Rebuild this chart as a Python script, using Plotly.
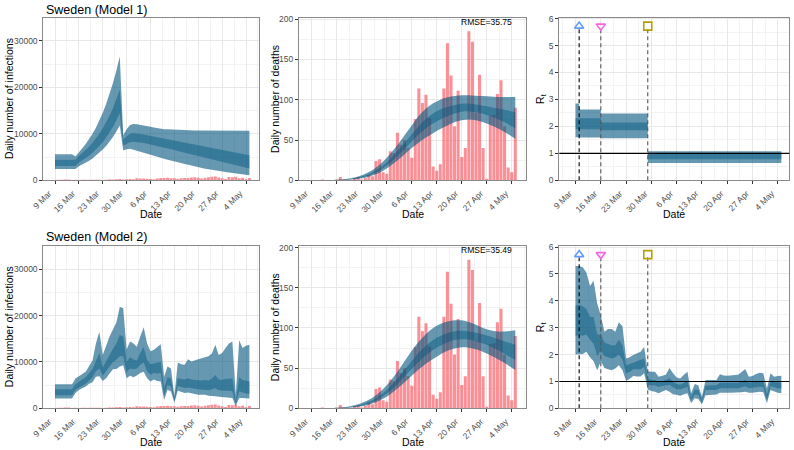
import pandas as pd
import plotly.graph_objects as go

# ---------------- data ----------------
dates = pd.date_range("2020-03-09", "2020-05-05", freq="D")

# daily reported deaths (bars, middle panels)
deaths = [0, 0, 0, 1, 0, 0, 0, 1, 4, 1,
          1, 0, 3, 4, 1, 3, 7, 5, 24, 26,
          10, 8, 36, 34, 59, 44, 50, 40, 28, 76,
          114, 96, 106, 77, 17, 12, 20, 114, 170, 130,
          67, 111, 29, 40, 185, 172, 84, 131, 40, 2,
          80, 81, 107, 124, 67, 16, 10, 90]

# daily reported cases (bars, left panels)
cases = [45, 107, 145, 162, 176, 48, 93, 60, 100, 106,
         93, 125, 93, 108, 89, 125, 178, 159, 241, 287,
         191, 214, 282, 246, 429, 382, 411, 335, 300, 226,
         368, 482, 486, 544, 466, 465, 332, 465, 497, 482,
         613, 676, 563, 392, 545, 682, 751, 812, 610, 463,
         286, 695, 681, 790, 428, 562, 235, 492]

# Model 1 infections (daily, Mar 9 - May 5)
m1_inf_lo95 = [2450, 2450, 2450, 2450, 2450, 2450, 2450, 3000, 3350, 3750,
               4200, 4700, 5300, 5900, 6600, 7400, 8300, 9300, 10500, 11800,
               6400, 6700, 6800, 6600, 6400, 6200, 5950, 5700, 5500, 5300,
               5100, 4850, 4650, 4400, 4200, 4000, 3800, 3650, 3500, 3350,
               3200, 3000, 2800, 2650, 2500, 2400, 2250, 2150, 2050, 1900,
               1800, 1700, 1600, 1500, 1400, 1300, 1200, 1100]
m1_inf_lo50 = [3100, 3100, 3100, 3100, 3100, 3100, 3100, 3800, 4250, 4750,
               5300, 5900, 6600, 7350, 8200, 9200, 10300, 11500, 12900, 14400,
               7500, 7900, 8200, 8300, 8250, 8150, 8000, 7850, 7700, 7550,
               7400, 7200, 7050, 6850, 6700, 6500, 6320, 6140, 5960, 5780,
               5600, 5420, 5240, 5060, 4880, 4700, 4520, 4340, 4160, 3980,
               3800, 3620, 3440, 3260, 3080, 2900, 2720, 2540]
m1_inf_hi50 = [4400, 4400, 4400, 4400, 4400, 4400, 4400, 5200, 5800, 6450,
               7200, 8050, 9000, 10000, 11200, 12500, 13900, 15500, 17400, 19500,
               8800, 9500, 10000, 10100, 10050, 9950, 9850, 9700, 9550, 9400,
               9250, 9100, 8950, 8800, 8650, 8500, 8360, 8220, 8080, 7940,
               7800, 7650, 7510, 7370, 7230, 7090, 6950, 6810, 6670, 6530,
               6390, 6250, 6110, 5960, 5820, 5680, 5540, 5400]
m1_inf_hi95 = [5600, 5600, 5600, 5600, 5600, 5600, 5100, 6100, 6900, 7800,
               8800, 10000, 11300, 12800, 14500, 16400, 18500, 20900, 23600, 26600,
               9700, 11000, 11900, 12100, 12050, 11950, 11800, 11650, 11500, 11350,
               11200, 11100, 11000, 10950, 10900, 10850, 10800, 10800, 10750, 10750,
               10700, 10700, 10700, 10700, 10700, 10700, 10700, 10700, 10700, 10700,
               10650, 10650, 10650, 10650, 10650, 10650, 10650, 10650]

# Model 2 infections
m2_inf_lo95 = [2100, 2100, 2100, 2100, 2100, 2100, 3300, 3950, 4300, 4700,
               5300, 5600, 6800, 6900, 5900, 6500, 7500, 8400, 8500, 9000,
               9300, 6500, 7000, 6700, 7100, 7600, 7900, 6500, 5800, 6200,
               5900, 5800, 1800, 4000, 3600, 1200, 3800, 3600, 3300, 3400,
               3200, 3100, 2900, 2900, 2900, 2700, 2700, 2600, 2500, 2450,
               2350, 2250, 2200, 500, 2200, 2200, 2100, 2100]
m2_inf_lo50 = [2800, 2800, 2800, 2800, 2800, 2800, 4000, 4500, 4900, 5300,
               6100, 6700, 8000, 8600, 7000, 8000, 9000, 10000, 10500, 11200,
               11200, 7800, 8600, 8400, 8600, 9400, 9900, 8000, 7300, 7600,
               7500, 7600, 2600, 5000, 4700, 1600, 4800, 4600, 4400, 4500,
               4300, 4200, 4100, 4000, 4000, 3900, 4100, 4300, 3900, 3800,
               3800, 3800, 3700, 800, 3700, 3400, 3200, 3100]
m2_inf_hi50 = [4100, 4100, 4100, 4100, 4100, 4100, 5200, 5800, 6200, 6700,
               7700, 8500, 10200, 11900, 8800, 10300, 11500, 12800, 14000, 15800,
               15500, 10000, 11000, 10500, 10300, 12000, 13300, 10400, 9500, 9700,
               9800, 10000, 4300, 6700, 6400, 2100, 6500, 6300, 6200, 6500,
               6200, 6100, 6000, 6000, 6100, 6000, 6400, 7200, 6200, 6100,
               6300, 6400, 6400, 1400, 6700, 6100, 5900, 5800]
m2_inf_hi95 = [5200, 5200, 5200, 5200, 5200, 5200, 6400, 7000, 7400, 7900,
               9200, 10300, 14000, 16500, 11500, 13500, 15500, 17000, 18500, 21900,
               21600, 12700, 14400, 14000, 13300, 15500, 17500, 14000, 12300, 12600,
               13200, 13800, 6800, 9000, 8600, 2600, 9900, 9500, 9400, 10600,
               10100, 10400, 10600, 10800, 11000, 11200, 11800, 13700, 11500, 11900,
               13000, 14000, 14400, 2900, 14700, 13000, 13500, 13700]

# modelled deaths bands (every second day + last day), day offsets from 9 Mar
death_band_days = [6, 8, 10, 12, 14, 16, 18, 20, 22, 24, 26, 28, 30, 32, 34,
                   36, 38, 40, 42, 44, 46, 48, 50, 52, 54, 56, 57]
m1_dth_lo95 = [0.0, 0.2, 0.6, 1.3, 2.5, 4.5, 7.6, 12.0, 17.8, 24.7, 32.4, 40.0, 47.0, 53.0,
               58.5, 63.5, 68.0, 72.0, 74.5, 75.5, 74.5, 72.0, 68.5, 64.5, 60.0, 54.5, 52.0]
m1_dth_lo50 = [0.1, 0.4, 0.9, 1.9, 3.5, 6.0, 9.8, 15.1, 21.9, 30.0, 38.9, 48.0, 57.0, 64.5,
               70.5, 75.5, 79.5, 83.0, 85.0, 85.5, 84.5, 82.5, 79.5, 76.0, 72.0, 67.0, 64.5]
m1_dth_hi50 = [0.2, 0.6, 1.3, 2.6, 4.7, 7.8, 12.4, 18.7, 26.8, 36.3, 46.6, 57.0, 67.5, 76.5,
               83.0, 88.0, 91.0, 93.5, 95.0, 95.0, 94.0, 92.5, 91.0, 89.0, 87.5, 85.5, 84.5]
m1_dth_hi95 = [0.4, 0.9, 1.8, 3.5, 6.2, 10.2, 15.8, 23.3, 32.8, 43.9, 56.0, 68.0, 80.0, 89.0,
               95.5, 100.0, 103.0, 104.5, 105.5, 105.5, 105.0, 104.5, 104.0, 103.5, 103.5, 103.5, 103.5]

m2_dth_lo95 = [0.0, 0.2, 0.6, 1.3, 2.5, 4.5, 7.5, 11.8, 17.5, 24.5, 32.5, 40.5, 48.5, 55.5,
               61.5, 67.0, 71.5, 74.5, 76.0, 75.5, 73.5, 70.0, 66.0, 61.5, 56.5, 50.5, 48.0]
m2_dth_lo50 = [0.1, 0.4, 0.9, 1.9, 3.5, 6.0, 9.8, 15.0, 21.8, 30.0, 39.5, 49.0, 58.0, 66.0,
               72.5, 78.0, 82.0, 85.0, 86.0, 85.5, 83.5, 80.5, 77.0, 73.0, 68.0, 62.5, 60.0]
m2_dth_hi50 = [0.2, 0.6, 1.3, 2.7, 4.8, 8.0, 12.6, 19.0, 27.2, 37.0, 48.0, 59.0, 69.5, 78.0,
               85.0, 90.0, 93.5, 96.0, 96.5, 95.5, 94.0, 92.0, 89.5, 86.5, 83.5, 80.5, 79.0]
m2_dth_hi95 = [0.4, 0.9, 1.9, 3.7, 6.5, 10.6, 16.3, 24.0, 33.8, 45.5, 58.5, 71.5, 83.0, 92.5,
               100.0, 105.0, 108.0, 109.5, 109.5, 107.5, 104.0, 100.0, 97.0, 95.5, 95.5, 96.5, 97.0]

# Model 1 Rt (piecewise constant, change days)
m1_r_days = [0, 1, 7, 20, 57]
m1_r_lo95 = [1.60, 1.59, 1.56, 0.64, 0.64]
m1_r_lo50 = [1.90, 1.89, 1.86, 0.78, 0.78]
m1_r_hi50 = [2.30, 2.30, 2.14, 0.98, 0.98]
m1_r_hi95 = [2.85, 2.63, 2.48, 1.08, 1.08]

# Model 2 Rt (daily)
m2_r_lo95 = [2.00, 2.00, 2.02, 2.10, 1.90, 1.75, 1.42, 1.75, 1.50, 1.45,
             1.42, 1.48, 1.60, 1.42, 1.02, 1.10, 1.20, 1.18, 1.18, 1.30,
             0.70, 0.64, 0.62, 0.56, 0.62, 0.68, 0.62, 0.52, 0.50, 0.47,
             0.52, 0.56, 0.19, 0.37, 0.35, 0.15, 0.49, 0.50, 0.50, 0.51,
             0.58, 0.59, 0.58, 0.58, 0.58, 0.59, 0.60, 0.62, 0.58, 0.58,
             0.60, 0.62, 0.60, 0.19, 0.68, 0.62, 0.58, 0.56]
m2_r_lo50 = [2.70, 2.72, 2.70, 2.75, 2.55, 2.40, 1.95, 2.15, 1.95, 1.90,
             1.85, 1.90, 2.00, 1.80, 1.30, 1.35, 1.45, 1.45, 1.45, 1.55,
             0.88, 0.85, 0.85, 0.80, 0.82, 0.85, 0.88, 0.78, 0.72, 0.70,
             0.75, 0.80, 0.28, 0.52, 0.50, 0.22, 0.68, 0.68, 0.68, 0.68,
             0.75, 0.75, 0.74, 0.74, 0.74, 0.75, 0.78, 0.82, 0.75, 0.76,
             0.78, 0.80, 0.78, 0.30, 0.82, 0.78, 0.75, 0.74]
m2_r_hi50 = [3.83, 3.85, 3.80, 3.70, 3.40, 3.40, 2.75, 2.75, 2.45, 2.40,
             2.35, 2.35, 2.55, 2.35, 1.60, 1.65, 1.70, 1.75, 1.78, 1.85,
             1.10, 1.05, 1.05, 0.98, 1.00, 1.05, 1.12, 0.98, 0.90, 0.88,
             0.95, 1.02, 0.40, 0.70, 0.68, 0.32, 0.85, 0.86, 0.86, 0.86,
             0.95, 0.95, 0.93, 0.93, 0.93, 0.95, 1.00, 1.05, 0.95, 0.97,
             1.00, 1.02, 1.00, 0.50, 1.02, 0.98, 0.97, 0.96]
m2_r_hi95 = [5.30, 5.30, 5.25, 5.05, 4.55, 4.75, 3.90, 3.45, 2.85, 2.95,
             2.95, 2.85, 3.20, 3.05, 1.85, 1.90, 1.98, 2.05, 2.10, 2.28,
             1.38, 1.36, 1.36, 1.17, 1.20, 1.25, 1.50, 1.30, 1.15, 1.11,
             1.25, 1.36, 0.56, 0.90, 0.85, 0.43, 1.05, 1.05, 1.06, 1.05,
             1.27, 1.22, 1.21, 1.22, 1.22, 1.25, 1.35, 1.46, 1.17, 1.20,
             1.28, 1.32, 1.30, 0.74, 1.30, 1.17, 1.20, 1.21]

# interventions
interv_dates = ["2020-03-10", "2020-03-16", "2020-03-29"]
interv_symbols = ["triangle-up-open", "triangle-down-open", "square-open"]
interv_colors = ["#619CFF", "#F564E3", "#B79F00"]
interv_line_colors = ["#000000", "#555555", "#555555"]
interv_marker_y = 5.72

tick_dates = ["2020-03-09", "2020-03-16", "2020-03-23", "2020-03-30", "2020-04-06",
              "2020-04-13", "2020-04-20", "2020-04-27", "2020-05-04"]
tick_labels = ["9 Mar", "16 Mar", "23 Mar", "30 Mar", "6 Apr",
               "13 Apr", "20 Apr", "27 Apr", "4 May"]
minor_dates = ["2020-03-05 12:00", "2020-03-12 12:00", "2020-03-19 12:00", "2020-03-26 12:00",
               "2020-04-02 12:00", "2020-04-09 12:00", "2020-04-16 12:00", "2020-04-23 12:00",
               "2020-04-30 12:00", "2020-05-07 12:00"]

titles = ["Sweden (Model 1)", "Sweden (Model 2)"]
rmse = ["RMSE=35.75", "RMSE=35.49"]

# ---------------- styling / layout ----------------
W, H = 794, 450
base = pd.Timestamp("2020-03-09")
FONT = "Liberation Sans, Arial, sans-serif"
LIGHT = "rgba(0,85,125,0.60)"
DARK = "rgba(0,85,125,0.45)"
BAR = "rgba(248,105,115,0.75)"
DAYMS = 86400000


def dstr(d):
    return (base + pd.Timedelta(days=d)).strftime("%Y-%m-%d %H:%M:%S")


def px(X):
    return X / W


def py(Y):
    return 1 - Y / H


cols = [(43.3, 259.3), (299.0, 526.0), (559.3, 789.3)]
rows = [(17.5, 180.3), (246.0, 408.3)]
xr = [(-3.43, 59.9), (-3.56, 60.0), (-4.5, 59.2)]

fig = go.Figure()


def band(x, lo, hi, color, ax, shape="linear"):
    xa, ya = "x" + ax, "y" + ax
    fig.add_trace(go.Scatter(x=x, y=lo, mode="lines", line=dict(width=0, shape=shape),
                             hoverinfo="skip", showlegend=False, xaxis=xa, yaxis=ya))
    fig.add_trace(go.Scatter(x=x, y=hi, mode="lines", line=dict(width=0, shape=shape),
                             fill="tonexty", fillcolor=color, hoverinfo="skip",
                             showlegend=False, xaxis=xa, yaxis=ya))


death_band_x = [dstr(d) for d in death_band_days]
m1_r_x = [dstr(d) for d in m1_r_days]

inf_sets = [(m1_inf_lo95, m1_inf_lo50, m1_inf_hi50, m1_inf_hi95),
            (m2_inf_lo95, m2_inf_lo50, m2_inf_hi50, m2_inf_hi95)]
dth_sets = [(m1_dth_lo95, m1_dth_lo50, m1_dth_hi50, m1_dth_hi95),
            (m2_dth_lo95, m2_dth_lo50, m2_dth_hi50, m2_dth_hi95)]

for r in range(2):
    a_inf, a_dth, a_r = str(3 * r + 1), str(3 * r + 2), str(3 * r + 3)
    # infections
    fig.add_trace(go.Bar(x=dates, y=cases, width=0.85 * DAYMS, marker=dict(color=BAR, line=dict(width=0)),
                         showlegend=False, xaxis="x" + a_inf, yaxis="y" + a_inf))
    lo95, lo50, hi50, hi95 = inf_sets[r]
    band(dates, lo95, hi95, LIGHT, a_inf)
    band(dates, lo50, hi50, DARK, a_inf)
    # deaths
    fig.add_trace(go.Bar(x=dates, y=deaths, width=0.85 * DAYMS, marker=dict(color=BAR, line=dict(width=0)),
                         showlegend=False, xaxis="x" + a_dth, yaxis="y" + a_dth))
    lo95, lo50, hi50, hi95 = dth_sets[r]
    band(death_band_x, lo95, hi95, LIGHT, a_dth, "spline")
    band(death_band_x, lo50, hi50, DARK, a_dth, "spline")
    # Rt
    if r == 0:
        band(m1_r_x, m1_r_lo95, m1_r_hi95, LIGHT, a_r, "hv")
        band(m1_r_x, m1_r_lo50, m1_r_hi50, DARK, a_r, "hv")
    else:
        band(dates, m2_r_lo95, m2_r_hi95, LIGHT, a_r)
        band(dates, m2_r_lo50, m2_r_hi50, DARK, a_r)
    for dt, sym, col, lc in zip(interv_dates, interv_symbols, interv_colors, interv_line_colors):
        fig.add_trace(go.Scatter(x=[dt, dt], y=[0, interv_marker_y], mode="lines",
                                 line=dict(color=lc, width=1.1, dash="4px,3px"),
                                 hoverinfo="skip", showlegend=False, xaxis="x" + a_r, yaxis="y" + a_r))
        fig.add_trace(go.Scatter(x=[dt], y=[interv_marker_y], mode="markers",
                                 marker=dict(symbol=sym, size=8, color=col, line=dict(width=1.6, color=col)),
                                 hoverinfo="skip", showlegend=False, xaxis="x" + a_r, yaxis="y" + a_r))

layout = dict(width=W, height=H, margin=dict(l=0, r=0, t=0, b=0, autoexpand=False), autosize=False,
              plot_bgcolor="white", paper_bgcolor="white", showlegend=False,
              font=dict(family=FONT, color="#000000"), barmode="overlay")

tickfont = dict(family=FONT, size=8.5, color="#4d4d4d")
yspecs = [([0, 35000], 10000, 5000), ([0, 202], 50, 25), ([0, 6.04], 1, 0.5)]

for r in range(2):
    for c in range(3):
        i = 3 * r + c + 1
        key = "" if i == 1 else str(i)
        x0, x1 = cols[c]
        y0, y1 = rows[r]
        layout["xaxis" + key] = dict(
            domain=[px(x0), px(x1)], anchor="y" + str(i), type="date", automargin=False,
            range=[dstr(xr[c][0]), dstr(xr[c][1])],
            tickmode="array", tickvals=tick_dates, ticktext=tick_labels, tickangle=-45,
            ticklabelshift=-6, ticklabelstandoff=1,
            ticks="outside", ticklen=3, tickcolor="#333333", tickfont=tickfont,
            showgrid=True, gridcolor="#e8e8e8", gridwidth=1,
            minor=dict(tickmode="array", tickvals=minor_dates, showgrid=True,
                       gridcolor="#f3f3f3", gridwidth=1, ticks=""),
            showline=True, mirror=True, linecolor="#8a8a8a", linewidth=1, zeroline=False)
        rng, dt, mdt = yspecs[c]
        layout["yaxis" + key] = dict(
            domain=[py(y1), py(y0)], anchor="x" + str(i), range=rng, automargin=False,
            tick0=0, dtick=dt, tickformat="d", ticks="outside", ticklen=3,
            tickcolor="#333333", tickfont=tickfont,
            showgrid=True, gridcolor="#e8e8e8", gridwidth=1,
            minor=dict(tick0=0, dtick=mdt, showgrid=True, gridcolor="#f3f3f3", gridwidth=1, ticks=""),
            showline=True, mirror=True, linecolor="#8a8a8a", linewidth=1, zeroline=False)

shapes = []
for r in range(2):
    a = str(3 * r + 3)
    shapes.append(dict(type="line", xref="x" + a + " domain", yref="y" + a,
                       x0=0, x1=1, y0=1, y1=1, line=dict(color="#000000", width=1.1)))
layout["shapes"] = shapes

ann = []
title_y = [10, 237]
date_y = [214, 442]
for r in range(2):
    yc = (rows[r][0] + rows[r][1]) / 2
    ann.append(dict(text=titles[r], x=px(44), y=py(title_y[r]), xref="paper", yref="paper",
                    xanchor="left", yanchor="middle", showarrow=False,
                    font=dict(family=FONT, size=12.5, color="#000000")))
    ann.append(dict(text=rmse[r], x=px(514), y=py(rows[r][0] + 4), xref="paper", yref="paper",
                    xanchor="right", yanchor="middle", showarrow=False,
                    font=dict(family=FONT, size=8.5, color="#000000")))
    for c, (txt, X) in enumerate([("Daily number of infections", 9),
                                  ("Daily number of deaths", 275),
                                  ("R<sub>t</sub>", 541)]):
        ann.append(dict(text=txt, x=px(X), y=py(yc), xref="paper", yref="paper",
                        xanchor="center", yanchor="middle", textangle=-90, showarrow=False,
                        font=dict(family=FONT, size=10.5, color="#000000")))
        ann.append(dict(text="Date", x=px((cols[c][0] + cols[c][1]) / 2), y=py(date_y[r]),
                        xref="paper", yref="paper", xanchor="center", yanchor="middle",
                        showarrow=False, font=dict(family=FONT, size=10.5, color="#000000")))
layout["annotations"] = ann

fig.update_layout(**layout)
# remove the browser's default 8px body margin so the 794x450 figure fills the window
fig.write_html("out.html",
               config={"displayModeBar": False},
               post_script="document.body.style.margin='0px';document.body.style.padding='0px';")
